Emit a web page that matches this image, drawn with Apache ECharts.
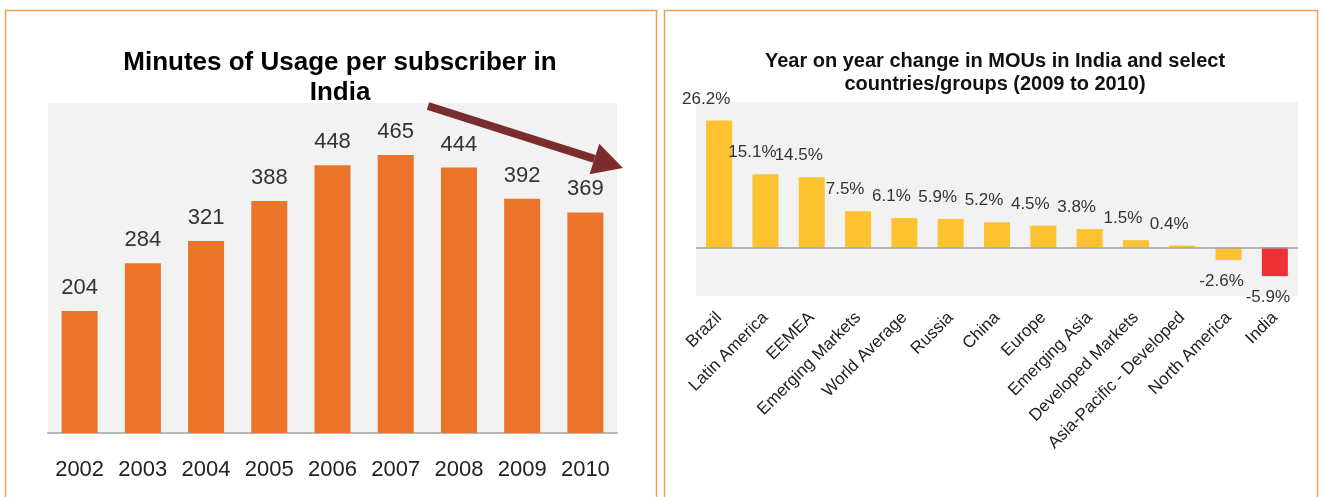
<!DOCTYPE html>
<html>
<head>
<meta charset="utf-8">
<script src="https://cdn.jsdelivr.net/npm/echarts@6/dist/echarts.min.js"></script>
<style>
  html, body { margin: 0; padding: 0; background: #fff; }
  #main { width: 1324px; height: 497px; }
</style>
</head>
<body>
<div id="main"></div>
<script>
// left chart: minutes of usage
var years = ['2002', '2003', '2004', '2005', '2006', '2007', '2008', '2009', '2010'];
var mou = [204, 284, 321, 388, 448, 465, 444, 392, 369];

// right chart: yoy change 2009 -> 2010 (%)
var regions = ['Brazil', 'Latin America', 'EEMEA', 'Emerging Markets', 'World Average', 'Russia',
  'China', 'Europe', 'Emerging Asia', 'Developed Markets', 'Asia-Pacific - Developed', 'North America', 'India'];
var yoy = [26.2, 15.1, 14.5, 7.5, 6.1, 5.9, 5.2, 4.5, 3.8, 1.5, 0.4, -2.6, -5.9];

var chart = echarts.init(document.getElementById('main'));

var font = 'Liberation Sans, Arial, sans-serif';

var yoyData = yoy.map(function (v, i) {
  var item = { value: v };
  if (regions[i] === 'India') item.itemStyle = { color: '#ee3136' };
  if (v < 0) item.label = { position: 'bottom', offset: [-7, 8] };
  return item;
});

// arrow geometry (decoration)
var tip = [623, 168], start = [428, 106];
var dx = tip[0] - start[0], dy = tip[1] - start[1];
var len = Math.sqrt(dx * dx + dy * dy);
var ux = dx / len, uy = dy / len;
var px = -uy, py = ux;
var base = [tip[0] - 30 * ux, tip[1] - 30 * uy];

var option = {
  backgroundColor: '#fff',
  animation: false,
  title: [
    {
      text: 'Minutes of Usage per subscriber in\nIndia',
      left: 335, textAlign: 'center', top: 43,
      textStyle: { fontFamily: font, fontSize: 26, fontWeight: 'bold', color: '#000', lineHeight: 30 }
    },
    {
      text: 'Year on year change in MOUs in India and select\ncountries/groups (2009 to 2010)',
      left: 990, textAlign: 'center', top: 45,
      textStyle: { fontFamily: font, fontSize: 20, fontWeight: 'bold', color: '#111', lineHeight: 23 }
    }
  ],
  grid: [
    { left: 48, width: 569, top: 103, bottom: 64, show: true, backgroundColor: '#f2f2f2', borderWidth: 0 },
    { left: 696, width: 602, top: 102, bottom: 201, show: true, backgroundColor: '#f2f2f2', borderWidth: 0 }
  ],
  xAxis: [
    {
      gridIndex: 0, type: 'category', data: years,
      axisLine: { lineStyle: { color: '#b8b8b8', width: 2 } },
      axisTick: { show: false },
      axisLabel: { fontFamily: font, fontSize: 22, color: '#222', margin: 26, interval: 0 }
    },
    {
      gridIndex: 1, type: 'category', data: regions,
      axisLine: { show: false, onZero: false },
      axisTick: { show: false },
      axisLabel: { fontFamily: font, fontSize: 17, color: '#222', rotate: 45, margin: 19, interval: 0 }
    }
  ],
  yAxis: [
    { gridIndex: 0, type: 'value', min: 0, max: 552, show: false },
    { gridIndex: 1, type: 'value', min: -10, max: 30, show: false }
  ],
  series: [
    {
      type: 'bar', xAxisIndex: 0, yAxisIndex: 0, data: mou,
      barWidth: 36,
      itemStyle: { color: '#e9742a' },
      label: { show: true, position: 'top', distance: 12, fontFamily: font, fontSize: 22, color: '#333' }
    },
    {
      type: 'bar', xAxisIndex: 1, yAxisIndex: 1, data: yoyData,
      barWidth: 26,
      itemStyle: { color: '#fcc22f' },
      label: { show: true, position: 'top', offset: [-13, -8], fontFamily: font, fontSize: 17, color: '#333', formatter: '{c}%' },
      markLine: {
        silent: true, symbol: 'none', label: { show: false },
        lineStyle: { color: '#a0a0a0', width: 1.5, type: 'solid' },
        data: [{ yAxis: 0 }]
      }
    }
  ],
  graphic: [
    { type: 'rect', shape: { x: 5.5, y: 10.5, width: 651, height: 520 }, style: { fill: 'none', stroke: '#f0a050', lineWidth: 1.5 }, z: 100 },
    { type: 'rect', shape: { x: 664.5, y: 10.5, width: 653, height: 520 }, style: { fill: 'none', stroke: '#f0a050', lineWidth: 1.5 }, z: 100 },
    {
      type: 'line', z: 100,
      shape: { x1: start[0], y1: start[1], x2: base[0], y2: base[1] },
      style: { stroke: '#7b2d2d', lineWidth: 8 }
    },
    {
      type: 'polygon', z: 100,
      shape: { points: [tip, [base[0] + 16 * px, base[1] + 16 * py], [base[0] - 16 * px, base[1] - 16 * py]] },
      style: { fill: '#7b2d2d' }
    }
  ]
};

chart.setOption(option);
</script>
</body>
</html>
